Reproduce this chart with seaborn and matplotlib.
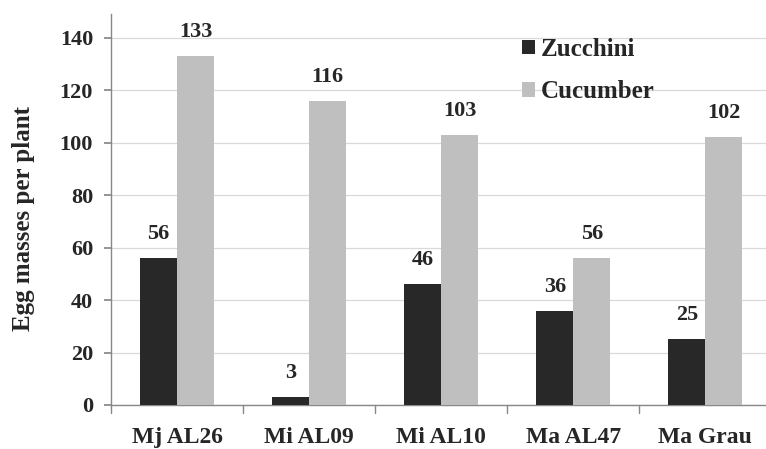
import matplotlib
matplotlib.use("Agg")
import matplotlib.pyplot as plt
import seaborn as sns
import pandas as pd

# Egg masses per plant by population and host plant
populations = ["Mj AL26", "Mi AL09", "Mi AL10", "Ma AL47", "Ma Grau"]
zucchini = [56, 3, 46, 36, 25]
cucumber = [133, 116, 103, 56, 102]
hosts = ["Zucchini", "Cucumber"]
y_ticks = [0, 20, 40, 60, 80, 100, 120, 140]

df = pd.DataFrame({
    "population": populations * 2,
    "host": [hosts[0]] * len(populations) + [hosts[1]] * len(populations),
    "eggs": zucchini + cucumber,
})

sns.set_theme(style="white")
plt.rcParams["font.family"] = ["Liberation Serif", "DejaVu Serif"]
plt.rcParams["font.weight"] = "bold"

fig = plt.figure(figsize=(7.66, 4.49), dpi=100)
ax = fig.add_axes([0.145, 0.098, 0.862, 0.871])

palette = {"Zucchini": "#282828", "Cucumber": "#bfbfbf"}
sns.barplot(data=df, x="population", y="eggs", hue="host", order=populations,
            hue_order=hosts, palette=palette, width=0.56, saturation=1,
            edgecolor="none", ax=ax, zorder=3)

ax.set_ylim(0, 149)
ax.set_xlim(-0.5, 4.5)
ax.set_yticks(y_ticks)
ax.yaxis.grid(True, color="#d9d9d9", linewidth=0.9, zorder=0)
ax.set_axisbelow(True)

for container in ax.containers:
    ax.bar_label(container, fmt="%d", padding=10, fontsize=16, fontweight="bold")

ax.set_xlabel("")
ax.set_ylabel("Egg masses per plant", fontsize=18, fontweight="bold")
ax.yaxis.set_label_coords(-0.115, 0.477)
ax.tick_params(axis="y", labelsize=16, length=5, color="#888888", direction="out",
               left=True, pad=8)
ax.tick_params(axis="x", labelsize=17, length=0, pad=16)
for lab in ax.get_xticklabels() + ax.get_yticklabels():
    lab.set_fontweight("bold")

# category boundary ticks on the x axis
for b in [-0.5, 0.5, 1.5, 2.5, 3.5, 4.5]:
    ax.plot([b, b], [0, -3], color="#888888", linewidth=1, clip_on=False, zorder=4)

for side in ["top", "right"]:
    ax.spines[side].set_visible(False)
for side in ["left", "bottom"]:
    ax.spines[side].set_color("#888888")
    ax.spines[side].set_linewidth(1)

leg = ax.legend(loc="upper left", bbox_to_anchor=(0.681, 0.916),
                bbox_transform=fig.transFigure, frameon=False, borderpad=0,
                borderaxespad=0, fontsize=18, handlelength=0.52, handleheight=0.52,
                handletextpad=0.25, labelspacing=0.78)
for t in leg.get_texts():
    t.set_fontweight("bold")

fig.savefig("out.png", dpi=100)
